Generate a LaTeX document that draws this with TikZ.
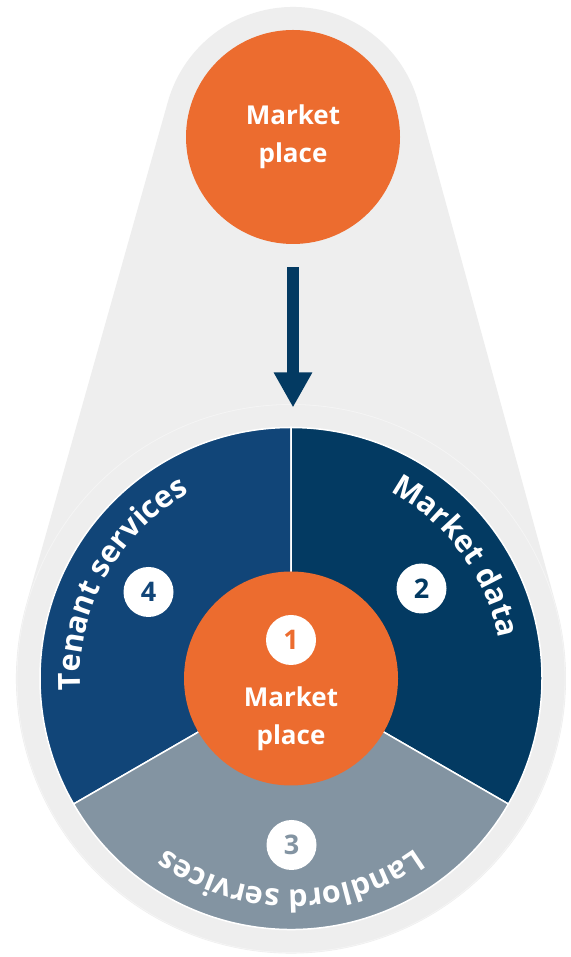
\documentclass[tikz,border=0pt]{standalone}
\usepackage{fontspec}
\setmainfont{Open Sans}
\usetikzlibrary{arrows.meta,decorations.text,calc}
\definecolor{bggrey}{HTML}{EEEEEE}
\definecolor{mporange}{HTML}{EC6C2F}
\definecolor{tenantblue}{HTML}{114578}
\definecolor{datablue}{HTML}{033A62}
\definecolor{landgrey}{HTML}{8394A2}
\newcommand{\arcfont}{\fontsize{30.5}{30.5}\selectfont\bfseries}
\newcommand{\hubfont}{\fontsize{26}{38}\selectfont\bfseries}
\newcommand{\numfont}{\fontsize{27}{27}\selectfont\bfseries}
\begin{document}
\begin{tikzpicture}[x=1pt, y=1pt,
  mp/.style={circle, fill=mporange, minimum size=214pt, inner sep=0pt},
  mptext/.style={text=white, align=center, font=\hubfont},
  num/.style={circle, fill=white, minimum size=50pt, inner sep=0pt, font=\numfont},
  sector/.style={draw=white, line width=1.5pt},
  flow/.style={draw=datablue, line width=12pt, -{Triangle[length=35pt, width=36pt]}},
  ring/.style={decorate, decoration={text along path, text align=center, text color=white}}]
\useasboundingbox[fill=white] (0,0) rectangle (570,957);
\coordinate (pc) at (291,278.5);
\coordinate (tc) at (293,820);
\fill[bggrey] ($(tc)+(15.53:130)$) arc[start angle=15.53, end angle=164.47, radius=130]
  -- ($(pc)+(164.47:275)$) arc[start angle=164.47, end angle=375.53, radius=275] -- cycle;
\draw[white, opacity=.4, line width=.8pt] (pc) circle[radius=274];
\filldraw[sector, fill=tenantblue] (pc) -- ++(90:251) arc[start angle=90, end angle=210, radius=251] -- cycle;
\filldraw[sector, fill=datablue] (pc) -- ++(90:251) arc[start angle=90, end angle=-30, radius=251] -- cycle;
\filldraw[sector, fill=landgrey] (pc) -- ++(210:251) arc[start angle=210, end angle=330, radius=251] -- cycle;
\path[ring, decoration={text={|\arcfont|Tenant services}}] (pc) ++(196:211) arc[start angle=196, end angle=106, radius=211];
\path[ring, decoration={text={|\arcfont|Market data}}] (pc) ++(81.5:211) arc[start angle=81.5, end angle=-8.5, radius=211];
\path[ring, decoration={text={|\arcfont|Landlord services}}] (pc) ++(320:211) arc[start angle=320, end angle=220, radius=211];
\node[mp] (mp0) at (tc) {};
\node[mptext] (mp0txt) at (293,820) {Market\\place};
\node[mp] (mp1) at (pc) {};
\node[mptext] (mp1txt) at (291,238) {Market\\place};
\node[num, text=mporange] (num1) at (291,317) {1};
\node[num, text=datablue] (num2) at (421.5,368.5) {2};
\node[num, text=landgrey] (num3) at (291.5,112) {3};
\node[num, text=tenantblue] (num4) at (148.5,365) {4};
\coordinate (pietop) at (293,529.5);
\draw[flow, shorten <=23pt, shorten >=20pt] (mp0.south) -- (pietop);
\end{tikzpicture}
\end{document}
